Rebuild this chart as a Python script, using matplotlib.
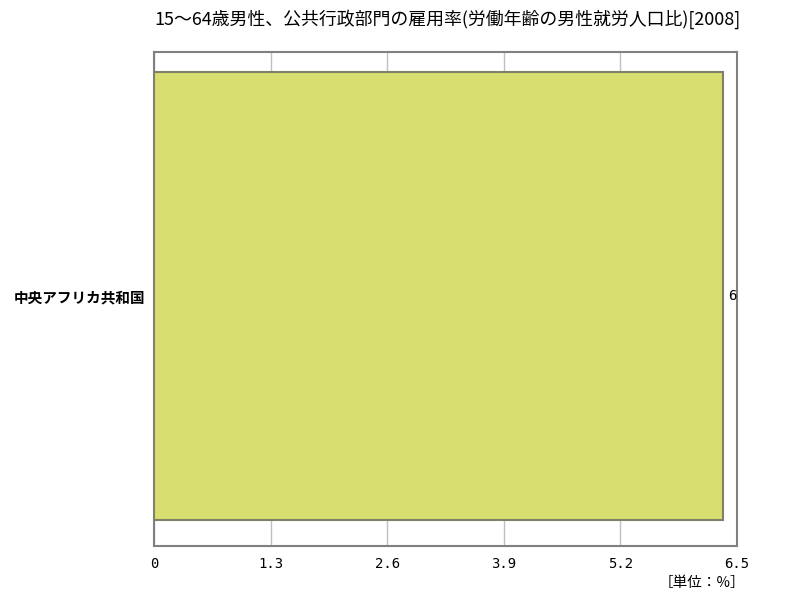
import matplotlib
matplotlib.use("Agg")
import matplotlib.pyplot as plt

plt.rcParams['font.family'] = ['Noto Sans CJK JP', 'DejaVu Sans']

# data
categories = ['中央アフリカ共和国']
values = [6.34]
value_labels = ['6']
xticks = [0, 1.3, 2.6, 3.9, 5.2, 6.5]
xtick_labels = ['0', '1.3', '2.6', '3.9', '5.2', '6.5']
title = '15～64歳男性、公共行政部門の雇用率(労働年齢の男性就労人口比)[2008]'

fig = plt.figure(figsize=(8, 6), dpi=100)
ax = fig.add_axes([154/800, 1 - 546/600, (737-154)/800, (546-52)/600])

ax.barh(range(len(categories)), values, height=1.0, color='#d8de70',
        edgecolor='#7f7f6a', linewidth=1.5, zorder=3)

ax.set_xlim(0, 6.5)
ax.set_ylim(0.5 + 26/448, -0.5 - 20/448)
ax.set_xticks(xticks)
ax.set_xticklabels(xtick_labels, fontsize=10, family='DejaVu Sans Mono')
ax.set_yticks(range(len(categories)))
ax.set_yticklabels(categories, fontsize=10.5, fontweight='bold')
ax.tick_params(length=0, pad=6)
ax.tick_params(axis='x', pad=8)
ax.grid(axis='x', color='#c0c0c0', linewidth=1, zorder=0)
for s in ax.spines.values():
    s.set_color('#808080')
    s.set_linewidth(1.5)

for i, (v, lab) in enumerate(zip(values, value_labels)):
    ax.text(v + 0.06, i, lab, va='center', ha='left', fontsize=10,
            family='DejaVu Sans Mono', zorder=4)

fig.text(447/800, 1 - 19/600, title, ha='center', va='center', fontsize=12.9)
fig.text(745/800, 1 - 583/600, '［単位：%］', ha='right', va='center', fontsize=10.5)

fig.savefig('out.png', dpi=100)
